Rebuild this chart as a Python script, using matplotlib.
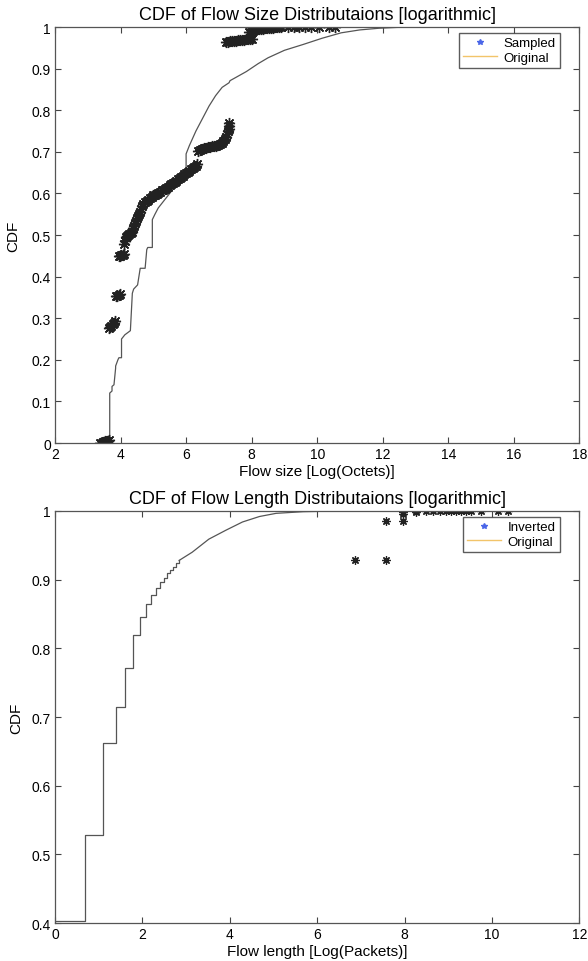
import matplotlib as mpl
mpl.use('Agg')
import matplotlib.pyplot as plt
from matplotlib.lines import Line2D

plt.rcParams['font.family'] = ['Liberation Sans', 'DejaVu Sans']

# ---- top chart: flow size ----
orig_size_x = [3.40, 3.67, 3.67, 3.74, 3.74, 3.80, 3.85, 3.85, 3.92, 3.95, 4.03, 4.03,
               4.13, 4.30, 4.36, 4.40, 4.52, 4.58, 4.60, 4.75, 4.80, 4.83, 4.97, 4.97,
               5.05, 5.15, 5.30, 5.50, 5.70, 5.88, 6.00, 6.00, 6.10, 6.30, 6.50, 6.70,
               6.90, 7.10, 7.31, 7.34, 7.50, 7.84, 8.20, 8.50, 9.00, 9.57, 10.15, 10.73,
               11.30, 11.88, 12.50, 13.50]
orig_size_y = [0.0, 0.0, 0.12, 0.125, 0.136, 0.14, 0.18, 0.185, 0.20, 0.205, 0.205, 0.25,
               0.26, 0.27, 0.36, 0.37, 0.38, 0.41, 0.42, 0.42, 0.465, 0.47, 0.47, 0.537,
               0.55, 0.565, 0.58, 0.60, 0.62, 0.64, 0.66, 0.695, 0.715, 0.75, 0.78, 0.81,
               0.835, 0.855, 0.866, 0.871, 0.878, 0.893, 0.912, 0.926, 0.944, 0.958, 0.973, 0.986,
               0.993, 0.997, 0.9993, 1.0]

sampled_x = [3.38, 3.42, 3.46, 3.50, 3.54, 3.58, 3.62, 3.66,
             3.64, 3.68, 3.72, 3.76, 3.80, 3.84,
             3.86, 3.90, 3.94, 3.98,
             3.94, 3.98, 4.02, 4.06, 4.10,
             4.10, 4.13, 4.16, 4.19, 4.23, 4.27, 4.31, 4.35, 4.38, 4.41, 4.44, 4.47, 4.50,
             4.53, 4.56, 4.59, 4.62, 4.65, 4.70, 4.75, 4.80, 4.85, 4.90, 4.95, 5.00, 5.05,
             5.10, 5.15, 5.20, 5.25, 5.30, 5.35, 5.40, 5.45, 5.50, 5.55, 5.60, 5.65, 5.70,
             5.75, 5.80, 5.85, 5.90, 5.95, 6.00, 6.05, 6.10, 6.15, 6.20, 6.25, 6.30, 6.34,
             6.36, 6.42, 6.48, 6.54, 6.60, 6.66, 6.72, 6.78, 6.84, 6.90, 6.96, 7.02, 7.08,
             7.14, 7.19, 7.23, 7.26, 7.28, 7.30, 7.31, 7.32,
             7.22, 7.28, 7.34, 7.40, 7.46, 7.52, 7.58, 7.64, 7.70, 7.76, 7.82, 7.88, 7.94, 8.00,
             7.92, 7.98, 8.04, 8.10, 8.16, 8.22, 8.28, 8.34, 8.40, 8.46, 8.52, 8.58, 8.64,
             8.70, 8.76, 8.82, 8.88,
             9.10, 9.28, 9.45, 9.62, 9.80, 10.05, 10.35, 10.55]
sampled_y = [0.000, 0.001, 0.002, 0.003, 0.004, 0.005, 0.006, 0.008,
             0.276, 0.278, 0.281, 0.285, 0.289, 0.293,
             0.353, 0.354, 0.356, 0.358,
             0.449, 0.450, 0.451, 0.452, 0.454,
             0.478, 0.486, 0.494, 0.498, 0.501, 0.503, 0.505, 0.508, 0.516, 0.522, 0.528, 0.534, 0.540,
             0.545, 0.550, 0.555, 0.563, 0.570, 0.575, 0.579, 0.582, 0.585, 0.589, 0.592, 0.595, 0.597,
             0.599, 0.602, 0.604, 0.607, 0.609, 0.611, 0.613, 0.616, 0.619, 0.622, 0.625, 0.628, 0.631,
             0.634, 0.637, 0.640, 0.643, 0.646, 0.649, 0.652, 0.655, 0.658, 0.661, 0.664, 0.667, 0.670,
             0.702, 0.705, 0.707, 0.709, 0.710, 0.711, 0.712, 0.713, 0.714, 0.715, 0.717, 0.719, 0.722,
             0.726, 0.730, 0.735, 0.742, 0.749, 0.756, 0.763, 0.770,
             0.965, 0.965, 0.966, 0.966, 0.967, 0.967, 0.968, 0.968, 0.969, 0.969, 0.970, 0.970, 0.971, 0.972,
             0.987, 0.989, 0.991, 0.993, 0.994, 0.995, 0.996, 0.996, 0.997, 0.997, 0.998, 0.998, 0.998,
             0.999, 0.999, 0.999, 0.999,
             1.0, 1.0, 1.0, 1.0, 1.0, 1.0, 1.0, 1.0]

# ---- bottom chart: flow length ----
len_step_x = [0.0, 0.69, 1.10, 1.39, 1.61, 1.79, 1.95, 2.08, 2.20, 2.31, 2.41, 2.49,
              2.56, 2.64, 2.71, 2.78, 2.84]
len_step_y = [0.403, 0.528, 0.662, 0.715, 0.772, 0.820, 0.846, 0.865, 0.878, 0.888, 0.896, 0.903,
              0.909, 0.914, 0.919, 0.924, 0.928]
len_tail_x = [2.84, 3.14, 3.52, 3.91, 4.29, 4.68, 5.06, 5.68, 6.50, 8.00]
len_tail_y = [0.928, 0.940, 0.959, 0.972, 0.984, 0.992, 0.9966, 0.999, 1.0, 1.0]

inverted_x = [6.87, 7.58, 7.58, 7.97, 7.97, 7.97, 8.25, 8.25, 8.48, 8.64, 8.80, 8.94, 9.06,
              9.17, 9.29, 9.40, 9.52, 9.75, 10.14, 10.37]
inverted_y = [0.928, 0.928, 0.985, 0.985, 0.996, 0.999, 0.998, 1.0, 1.0, 1.0, 1.0, 1.0, 1.0,
              1.0, 1.0, 1.0, 1.0, 1.0, 1.0, 1.0]

line_col = '#555555'
star_col = '#222222'
asterisk = (8, 2, 0)


def style_axes(ax):
    ax.tick_params(direction='in', length=4, top=True, right=True, labelsize=10,
                   color='#444444', pad=3)
    for s in ax.spines.values():
        s.set_color('#555555')
        s.set_linewidth(0.9)


def add_legend(ax, first):
    handles = [Line2D([], [], color='#4a66e8', marker='*', markersize=4, linestyle='none'),
               Line2D([], [], color='#f2c46a', linewidth=1)]
    ax.legend(handles, [first, 'Original'], loc='upper right',
              bbox_to_anchor=(0.962, 0.985), fontsize=9.5, frameon=True, fancybox=False,
              edgecolor='#333333', borderpad=0.3, labelspacing=0.15, handlelength=2.6,
              handletextpad=0.5, borderaxespad=0.0)


fig = plt.figure(figsize=(5.88, 9.62), dpi=100)

ax1 = fig.add_axes([0.0935, 1 - 444 / 962, 0.892, (444 - 28) / 962])
ax1.plot(orig_size_x, orig_size_y, color=line_col, linewidth=0.9)
ax1.plot(sampled_x, sampled_y, linestyle='none', marker=asterisk, markersize=8,
         markeredgewidth=1.0, color=star_col)
ax1.set_xlim(2, 18)
ax1.set_ylim(0, 1)
ax1.set_xticks(range(2, 19, 2))
ax1.set_yticks([i / 10 for i in range(11)])
ax1.set_yticklabels(['0', '0.1', '0.2', '0.3', '0.4', '0.5', '0.6', '0.7', '0.8', '0.9', '1'])
ax1.set_xlabel('Flow size [Log(Octets)]', fontsize=11, labelpad=2)
ax1.set_ylabel('CDF', fontsize=11, labelpad=8)
ax1.set_title('CDF of Flow Size Distributaions [logarithmic]', fontsize=13, pad=6)
style_axes(ax1)
add_legend(ax1, 'Sampled')

ax2 = fig.add_axes([0.0935, 1 - 924 / 962, 0.892, (924 - 512) / 962])
ax2.plot(len_step_x, len_step_y, color=line_col, linewidth=0.9, drawstyle='steps-post')
ax2.plot(len_tail_x, len_tail_y, color=line_col, linewidth=0.9)
ax2.plot(inverted_x, inverted_y, linestyle='none', marker=asterisk, markersize=6,
         markeredgewidth=0.9, color=star_col)
ax2.set_xlim(0, 12)
ax2.set_ylim(0.4, 1)
ax2.set_xticks(range(0, 13, 2))
ax2.set_yticks([0.4, 0.5, 0.6, 0.7, 0.8, 0.9, 1.0])
ax2.set_yticklabels(['0.4', '0.5', '0.6', '0.7', '0.8', '0.9', '1'])
ax2.set_xlabel('Flow length [Log(Packets)]', fontsize=11, labelpad=2)
ax2.set_ylabel('CDF', fontsize=11, labelpad=6)
ax2.set_title('CDF of Flow Length Distributaions [logarithmic]', fontsize=13, pad=6)
style_axes(ax2)
add_legend(ax2, 'Inverted')

fig.savefig('out.png', dpi=100)
